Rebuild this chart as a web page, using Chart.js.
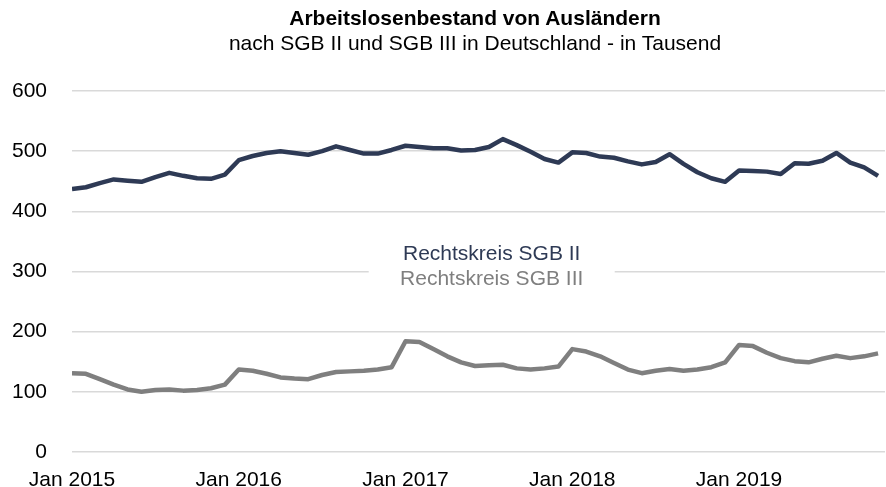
<!DOCTYPE html>
<html lang="de">
<head>
  <meta charset="UTF-8" />
  <title>Arbeitslosenbestand von Ausländern</title>
  <script src="https://cdn.jsdelivr.net/npm/chart.js"></script>
  <style>
    body {
      margin: 0;
      background: #fff;
      font-family: Arial, "Liberation Sans", sans-serif;
    }
    #wrap {
      position: relative;
      width: 886px;
      height: 487px;
    }
    #titles {
      position: absolute;
      top: 5px;
      left: 64px;
      right: 0;
      text-align: center;
      font-size: 21px;
      line-height: 25px;
      color: #000;
    }
    #titles b { display: block; }
  </style>
</head>
<body>
  <div id="wrap">
    <canvas id="chart" width="886" height="487"></canvas>
    <div id="titles">
      <b>Arbeitslosenbestand von Ausländern</b>
      <span>nach SGB II und SGB III in Deutschland - in Tausend</span>
    </div>
  </div>

  <script>
    // Monatswerte Jan 2015 bis Nov 2019, in Tausend
    const yearTicks = ["Jan 2015", "Jan 2016", "Jan 2017", "Jan 2018", "Jan 2019"];

    const sgb2 = [
      437, 440, 447, 453, 451, 449, 457, 464, 459, 455, 454, 461,
      485, 492, 497, 500, 497, 494, 500, 508, 502, 496, 496, 502,
      509, 507, 505, 505, 501, 502, 507, 520, 510, 499, 487, 481,
      498, 497, 491, 489, 483, 478, 482, 495, 479, 465, 455, 449,
      468, 467, 466, 462, 480, 479, 484, 497, 481, 473, 459
    ];

    const sgb3 = [
      131, 130, 121, 112, 104, 100, 103, 104, 102, 103, 106, 112,
      137, 135, 130, 124, 122, 121, 128, 133, 134, 135, 137, 141,
      184, 183, 171, 159, 149, 143, 144, 145, 139, 137, 139, 142,
      171, 167, 159, 148, 137, 131, 135, 138, 135, 137, 141, 149,
      178, 176, 165, 156, 151, 149, 155, 160, 156, 159, 164
    ];

    const seriesNames = ["Rechtskreis SGB II", "Rechtskreis SGB III"];
    const seriesColors = ["#2e3a55", "#7f7f7f"];

    const FONT = "Arial, 'Liberation Sans', sans-serif";

    // Legende mittig im Diagramm, untereinander, mit weißem Hintergrund
    const innerLegend = {
      id: "innerLegend",
      beforeDatasetsDraw(chart) {
        const { ctx, scales } = chart;
        const cx = scales.x.getPixelForValue(30.2);
        const yTop = scales.y.getPixelForValue(328);
        const yBot = scales.y.getPixelForValue(287);
        ctx.save();
        ctx.fillStyle = "#fff";
        ctx.fillRect(cx - 123, yTop - 14, 246, yBot - yTop + 28);
        ctx.font = "21px " + FONT;
        ctx.textAlign = "center";
        ctx.textBaseline = "middle";
        chart.data.datasets.forEach((ds, i) => {
          ctx.fillStyle = ds.borderColor;
          ctx.fillText(ds.label, cx, i === 0 ? yTop : yBot);
        });
        ctx.restore();
      }
    };

    const toPoints = arr => arr.map((v, i) => ({ x: i, y: v }));

    new Chart(document.getElementById("chart"), {
      type: "line",
      data: {
        datasets: [
          {
            label: seriesNames[0],
            data: toPoints(sgb2),
            borderColor: seriesColors[0],
            borderWidth: 4.5,
            borderJoinStyle: "round",
            pointRadius: 0,
            tension: 0
          },
          {
            label: seriesNames[1],
            data: toPoints(sgb3),
            borderColor: seriesColors[1],
            borderWidth: 4.5,
            borderJoinStyle: "round",
            pointRadius: 0,
            tension: 0
          }
        ]
      },
      options: {
        responsive: false,
        animation: false,
        devicePixelRatio: 1,
        layout: { padding: { top: 91, right: 1, left: 0, bottom: 0 } },
        scales: {
          x: {
            type: "linear",
            min: 0,
            max: 58.5,
            grid: { display: false },
            border: { display: false },
            afterBuildTicks: axis => {
              axis.ticks = yearTicks.map((_, i) => ({ value: i * 12 }));
            },
            afterFit: axis => { axis.height = 35; },
            ticks: {
              maxRotation: 0,
              autoSkip: false,
              padding: 8,
              color: "#000",
              font: { size: 21, family: FONT },
              callback: value => yearTicks[value / 12]
            }
          },
          y: {
            min: 0,
            max: 600,
            grid: { color: "#d9d9d9", lineWidth: 1.5, drawTicks: false },
            border: { display: false },
            afterFit: axis => {
              axis.width = 72;
              axis.paddingTop = 0;
              axis.paddingBottom = 0;
            },
            ticks: {
              stepSize: 100,
              padding: 25,
              color: "#000",
              font: { size: 21, family: FONT }
            }
          }
        },
        plugins: {
          legend: { display: false },
          tooltip: { enabled: false }
        }
      },
      plugins: [innerLegend]
    });
  </script>
</body>
</html>
